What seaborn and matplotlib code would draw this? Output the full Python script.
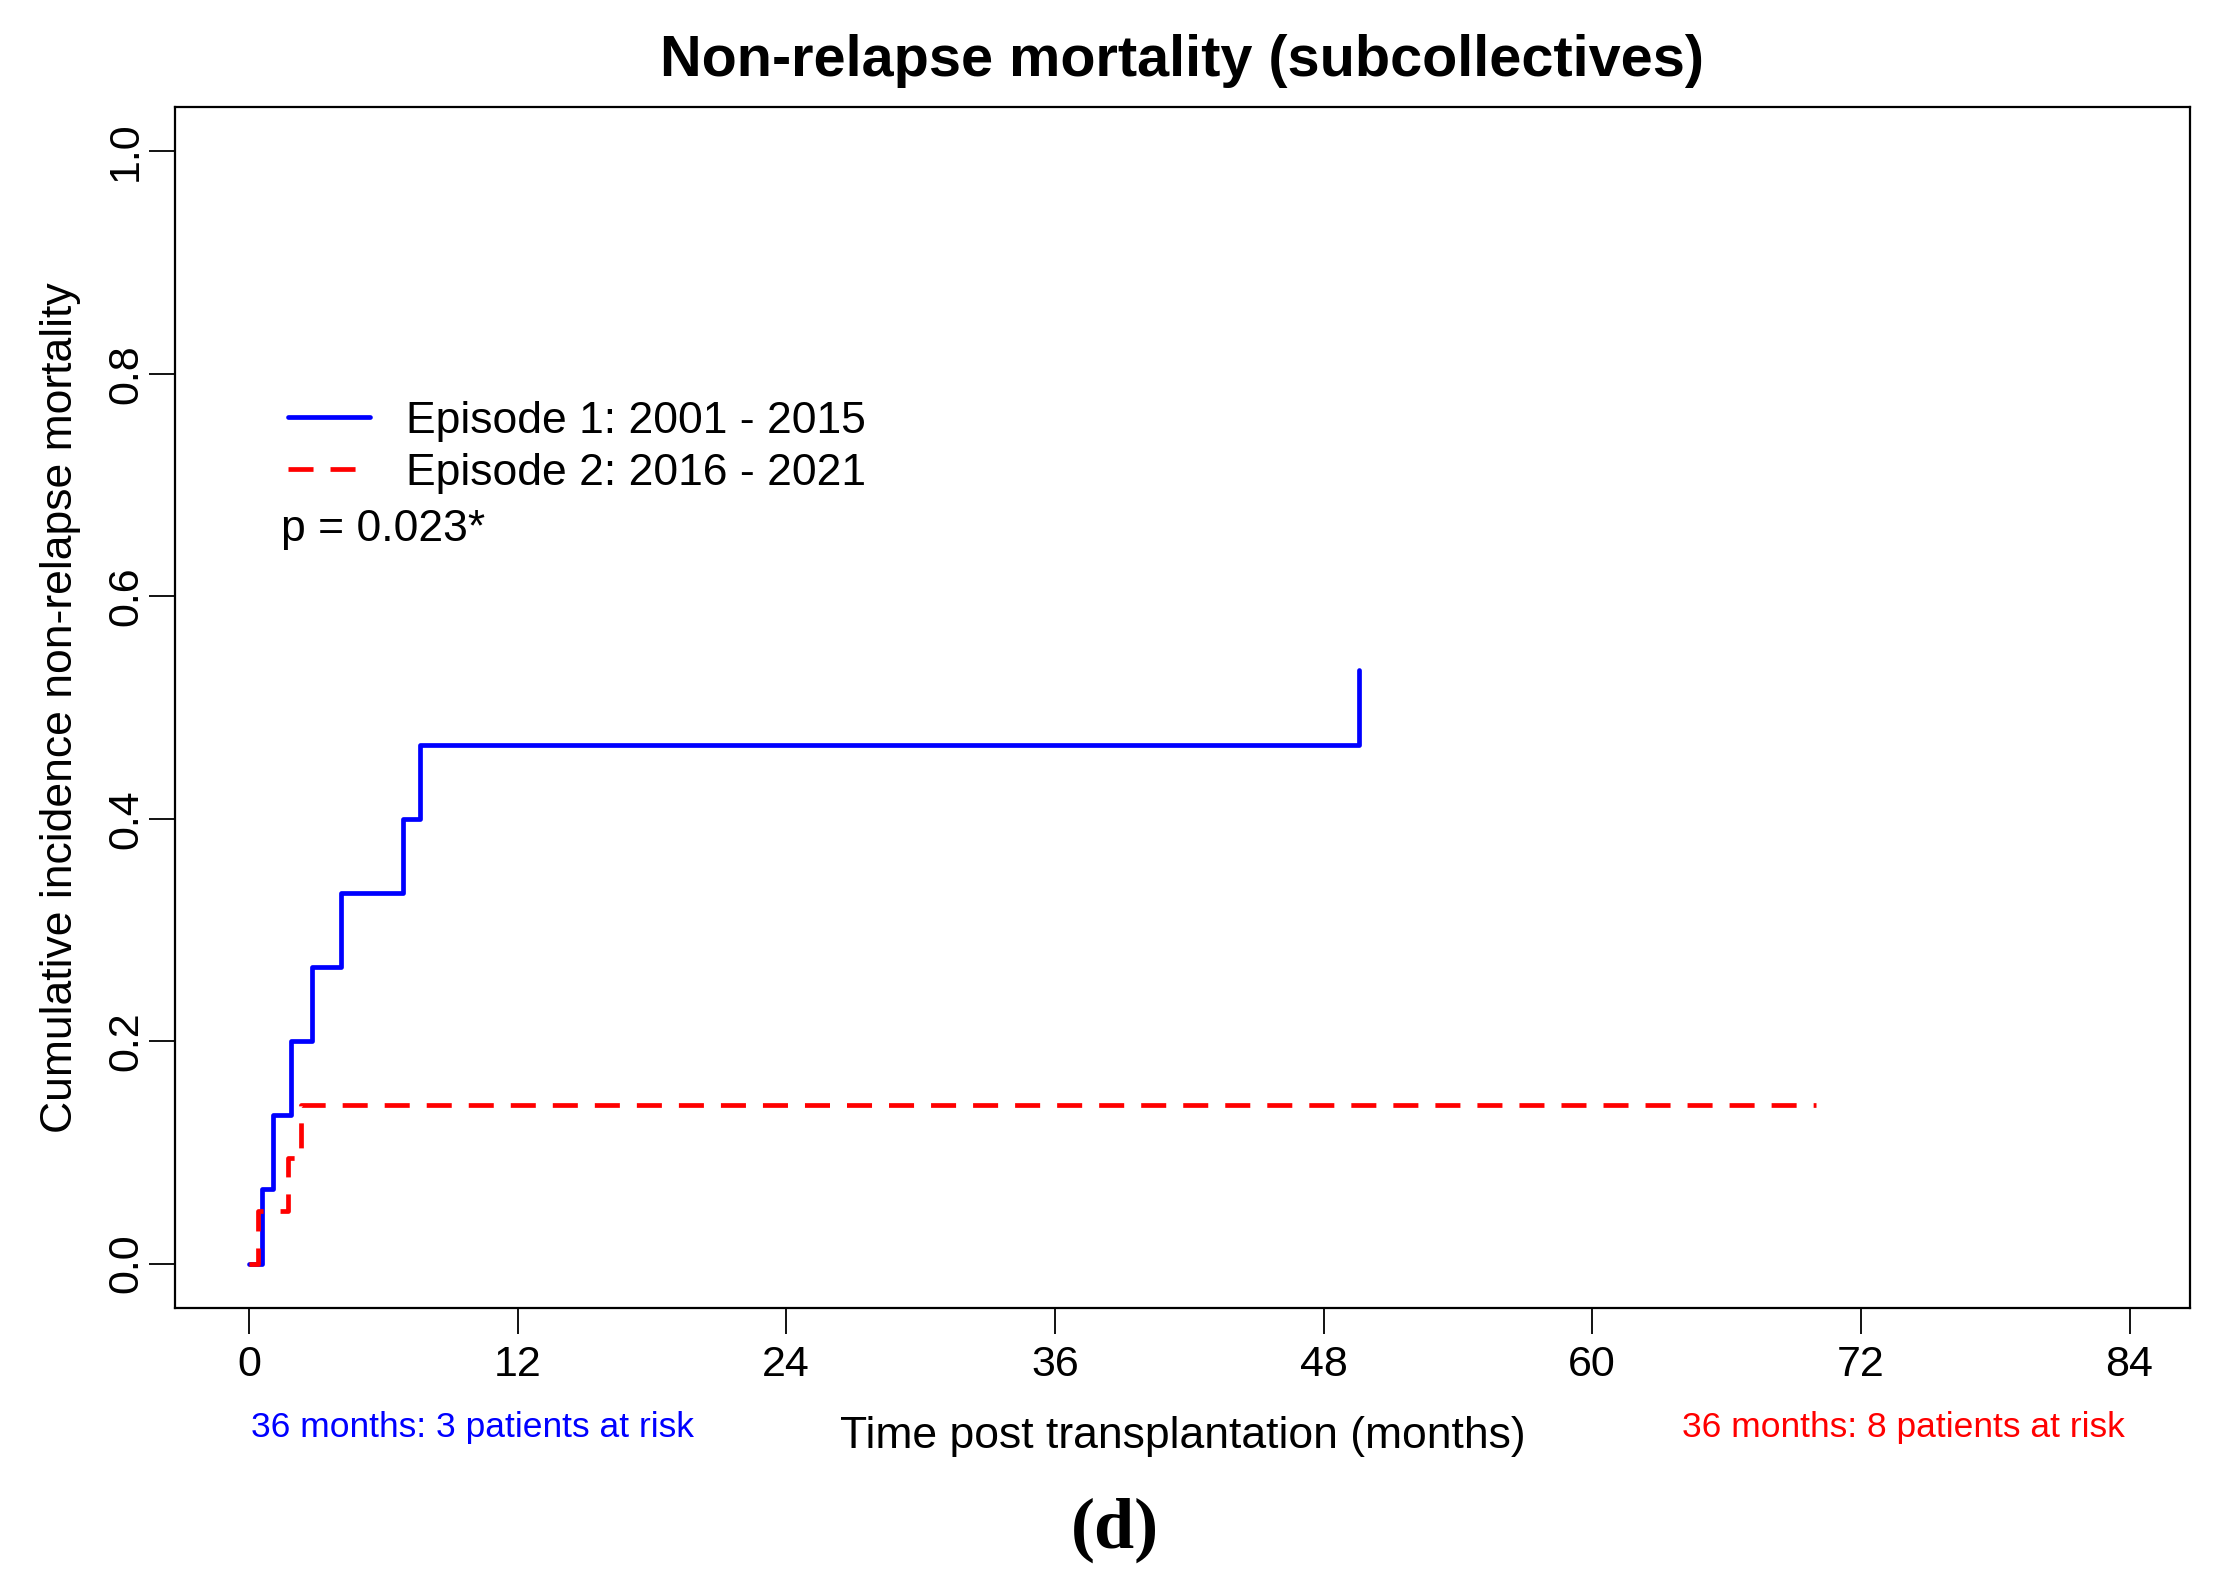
import numpy as np
import pandas as pd
import matplotlib
matplotlib.use("Agg")
import matplotlib.pyplot as plt
import seaborn as sns

# data (months, cumulative incidence)
ep1_label = "Episode 1: 2001 - 2015"
ep2_label = "Episode 2: 2016 - 2021"
ep1_time = [0, 0.57, 1.06, 1.88, 2.8, 4.1, 6.9, 7.63, 49.6]
ep1_cif = [0, 1/15, 2/15, 3/15, 4/15, 5/15, 6/15, 7/15, 8/15]
ep2_time = [0, 0.42, 1.75, 2.35, 70.0]
ep2_cif = [0, 1/21, 2/21, 3/21, 3/21]

x_ticks = [0, 12, 24, 36, 48, 60, 72, 84]
y_ticks = [0.0, 0.2, 0.4, 0.6, 0.8, 1.0]
p_text = "p = 0.023*"
risk_ep1 = "36 months: 3 patients at risk"
risk_ep2 = "36 months: 8 patients at risk"

df = pd.DataFrame({
    "time": ep1_time + ep2_time,
    "cif": ep1_cif + ep2_cif,
    "group": [ep1_label] * len(ep1_time) + [ep2_label] * len(ep2_time),
})

sns.set_theme(style="white")
plt.rcParams["font.family"] = ["Liberation Sans", "DejaVu Sans"]
plt.rcParams["text.color"] = "black"
plt.rcParams["axes.labelcolor"] = "black"

W, H = 2217, 1580
fig = plt.figure(figsize=(W / 100, H / 100), dpi=100)
ax = fig.add_axes([175 / W, 1 - 1308 / H, (2190 - 175) / W, (1308 - 107) / H])

lw = 3.4
sns.lineplot(data=df, x="time", y="cif", hue="group", style="group",
             palette={ep1_label: "#0000FF", ep2_label: "#FF0000"},
             dashes={ep1_label: "", ep2_label: (5.3, 3.6)},
             estimator=None, sort=False, drawstyle="steps-post",
             linewidth=lw, legend=False, ax=ax)
for ln in ax.get_lines():
    ln.set_linewidth(lw)

ax.set_xlim(-3.3, 86.7)
ax.set_ylim(-0.04, 1.04)
ax.set_xticks(x_ticks)
ax.set_yticks(y_ticks)
ax.set_yticklabels([f"{v:.1f}" for v in y_ticks], rotation=90, va="center")
ax.tick_params(axis="both", direction="out", length=18.7, width=1.3,
               color="black", labelsize=31, labelcolor="black",
               bottom=True, left=True)
ax.tick_params(axis="x", pad=8)
ax.tick_params(axis="y", pad=2)
for s in ax.spines.values():
    s.set_color("black")
    s.set_linewidth(1.6)
ax.grid(False)

ax.set_xlabel("Time post transplantation (months)", fontsize=32, labelpad=22)
ax.set_ylabel("Cumulative incidence non-relapse mortality", fontsize=32, labelpad=18)
ax.set_title("Non-relapse mortality (subcollectives)", fontsize=41.5,
             fontweight="bold", pad=22, color="black")

# legend in the upper left, no frame
handles = ax.get_lines()[:2]
leg = ax.legend(handles, [ep1_label, ep2_label], loc="upper left",
                bbox_to_anchor=(288 / W, 1 - 401 / H), bbox_transform=fig.transFigure,
                frameon=False, fontsize=32, handlelength=1.85, handletextpad=0.8,
                labelspacing=0.24, borderpad=0, borderaxespad=0)
fig.text(281 / W, 1 - 530 / H, p_text, fontsize=32, va="center", ha="left")

# patients at risk
fig.text(251 / W, 1 - 1428 / H, risk_ep1, fontsize=25.5, color="#0000FF", va="center", ha="left")
fig.text(2125 / W, 1 - 1428 / H, risk_ep2, fontsize=25.5, color="#FF0000", va="center", ha="right")

fig.text(1115 / W, 1 - 1530 / H, "(d)", fontsize=52, fontweight="bold",
         family=["Liberation Serif", "DejaVu Serif"], ha="center", va="center")

fig.savefig("out.png", dpi=100, facecolor="white")
